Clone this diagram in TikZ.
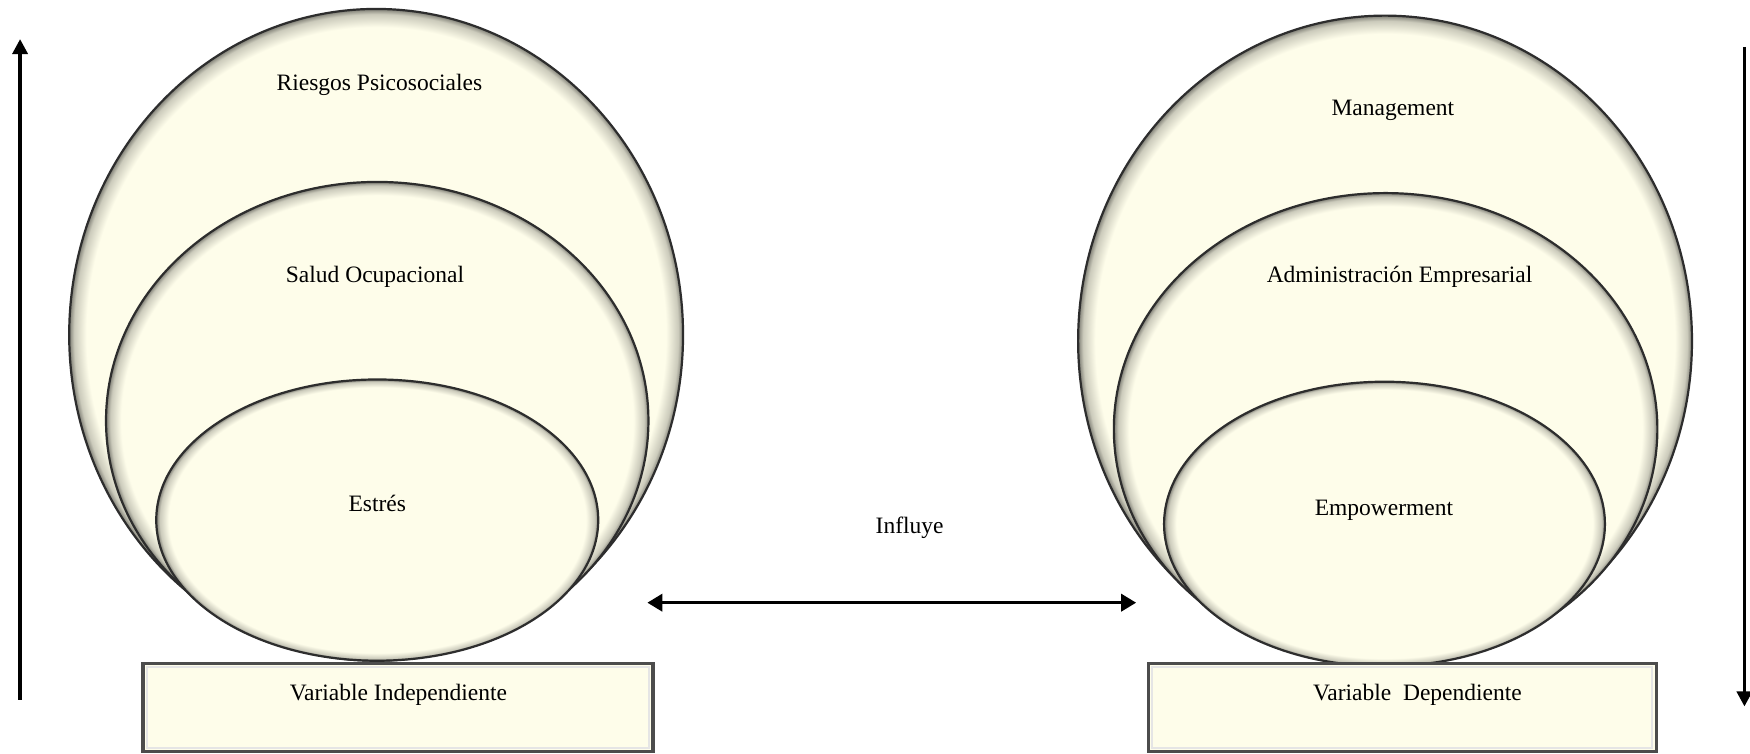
\documentclass[tikz,border=0pt]{standalone}
\usepackage{fontspec}
\setmainfont{Liberation Serif}
\usetikzlibrary{arrows.meta}
\definecolor{cream}{RGB}{254,253,234}
\colorlet{creamrim}{cream!80!black}
\colorlet{creamedge}{cream!50!black}
\definecolor{outline}{RGB}{45,45,45}
\pgfdeclareradialshading{rim}{\pgfpoint{0bp}{0bp}}{color(0bp)=(cream); color(23.6bp)=(cream); color(24.6bp)=(creamrim); color(25bp)=(creamedge); color(50bp)=(creamedge)}
\begin{document}
\begin{tikzpicture}[x=1.1161pt,y=-1.1161pt,
  bubble/.style={shading=rim, draw=outline, line width=2.2pt},
  lbl/.style={font=\fontsize{23.5}{28}\selectfont, inner sep=0pt, anchor=center},
  plate/.style={fill=cream, draw=black!70, line width=3.5pt},
  plateshade/.style={draw=black!10, line width=2pt},
  vline/.style={line width=3.5pt, -{Triangle[length=15pt,width=15pt]}},
  twoway/.style={line width=3.5pt, {Triangle[length=15pt,width=17pt]}-{Triangle[length=15pt,width=17pt]}},
]
\useasboundingbox (0,0) rectangle (1568,675);
\fill[white] (0,0) rectangle (1568,675);

% left group
\path[bubble] (337,300) ellipse [x radius=275, y radius=292];
\path[bubble] (338,377) ellipse [x radius=243, y radius=214];
\path[bubble] (338,466) ellipse [x radius=198, y radius=126];
\node[lbl] (riesgos) at (340,76) {Riesgos Psicosociales};
\node[lbl] (salud) at (336,248) {Salud Ocupacional};
\node[lbl] (estres) at (338,451) {Estrés};
\path[plate] (128,594.5) rectangle (585,673.3);
\path[plateshade] (131.5,598) rectangle (581.5,669.8);
\node[lbl] (vi) at (357,623) {Variable Independiente};

% right group
\path[bubble] (1241,305.5) ellipse [x radius=275, y radius=291.5];
\path[bubble] (1241.5,384.5) ellipse [x radius=243.5, y radius=211.5];
\path[bubble] (1240.5,469.5) ellipse [x radius=197.5, y radius=127.5];
\node[lbl] (manag) at (1248,99) {Management};
\node[lbl] (admin) at (1254,248) {Administración Empresarial};
\node[lbl] (empow) at (1240,457) {Empowerment};
\path[plate] (1029,594.5) rectangle (1484,673.3);
\path[plateshade] (1032.5,598) rectangle (1480.5,669.8);
\node[lbl] (vd) at (1270,623) {Variable\ \ Dependiente};

% influence
\node[lbl] (influye) at (815,473) {Influye};
\coordinate (ia) at (580,540);
\coordinate (ib) at (1018,540);
\draw[twoway] (ia) -- (ib);

% vertical arrows
\coordinate (lb) at (18,627);
\coordinate (lt) at (18,35);
\draw[vline] (lb) -- (lt);
\coordinate (rt) at (1563,42);
\coordinate (rb) at (1563,633);
\draw[vline] (rt) -- (rb);
\end{tikzpicture}
\end{document}
